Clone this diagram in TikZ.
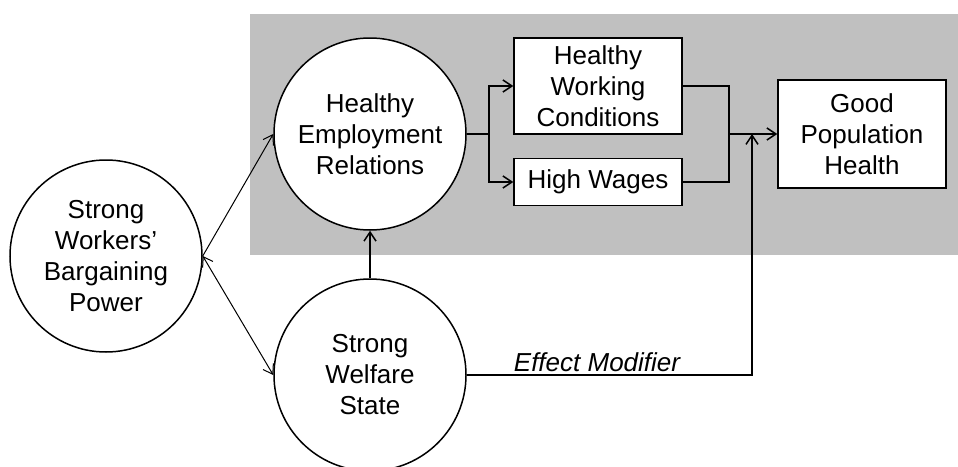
\documentclass[tikz,border=0pt]{standalone}
\usepackage{fontspec}
\setmainfont{Liberation Sans}
\usetikzlibrary{arrows.meta}
\definecolor{panelgray}{RGB}{192,192,192}
\tikzset{
  circ/.style={circle, draw, fill=white, line width=1.5pt, minimum size=192pt, inner sep=0pt, align=center, font=\fontsize{26}{31}\selectfont},
  boxnode/.style={rectangle, draw, fill=white, line width=1.5pt, inner sep=0pt, align=center, font=\fontsize{26}{31}\selectfont},
  conn/.style={line width=1.5pt},
  arr/.style={line width=1.5pt, -{Straight Barb[length=9pt,width=12pt]}},
  thinarr/.style={line width=1pt, -{Straight Barb[length=9pt,width=12pt]}},
}
\begin{document}
\begin{tikzpicture}[x=1pt,y=-1pt]
\useasboundingbox (0,0) rectangle (958,466);
\fill[panelgray] (250,14) rectangle (958,255);
\node[circ] (bp) at (106,256) {Strong\\Workers’\\Bargaining\\Power};
\node[circ] (her) at (370,134) {Healthy\\Employment\\Relations};
\node[circ] (sws) at (370,375) {Strong\\Welfare\\State};
\node[boxnode, minimum width=168pt, minimum height=96pt] (hwc) at (598,86) {Healthy\\Working\\Conditions};
\node[boxnode, minimum width=168pt, minimum height=47pt] (hw) at (598,182) {High Wages};
\node[boxnode, minimum width=168pt, minimum height=108pt] (gph) at (862,134) {Good\\Population\\Health};
\node[font=\fontsize{26}{31}\selectfont\itshape] (em) at (597,362) {Effect Modifier};
\coordinate (b) at (489,134);
\coordinate (j) at (729,134);
\coordinate (m) at (752,134);
\draw[thinarr] (bp.east) -- (her.west);
\draw[thinarr, {Straight Barb[length=9pt,width=12pt]}-{Straight Barb[length=9pt,width=12pt]}] (bp.east) -- (sws.west);
\draw[arr] (sws.north) -- (her.south);
\draw[conn] (her.east) -- (b);
\draw[arr] (b) |- (hwc.west);
\draw[arr] (b) |- (hw.west);
\draw[conn] (hwc.east) -| (j);
\draw[conn] (hw.east) -| (j);
\draw[arr] (j) -- (gph.west);
\draw[arr] (sws.east) -| (m);
\end{tikzpicture}
\end{document}
